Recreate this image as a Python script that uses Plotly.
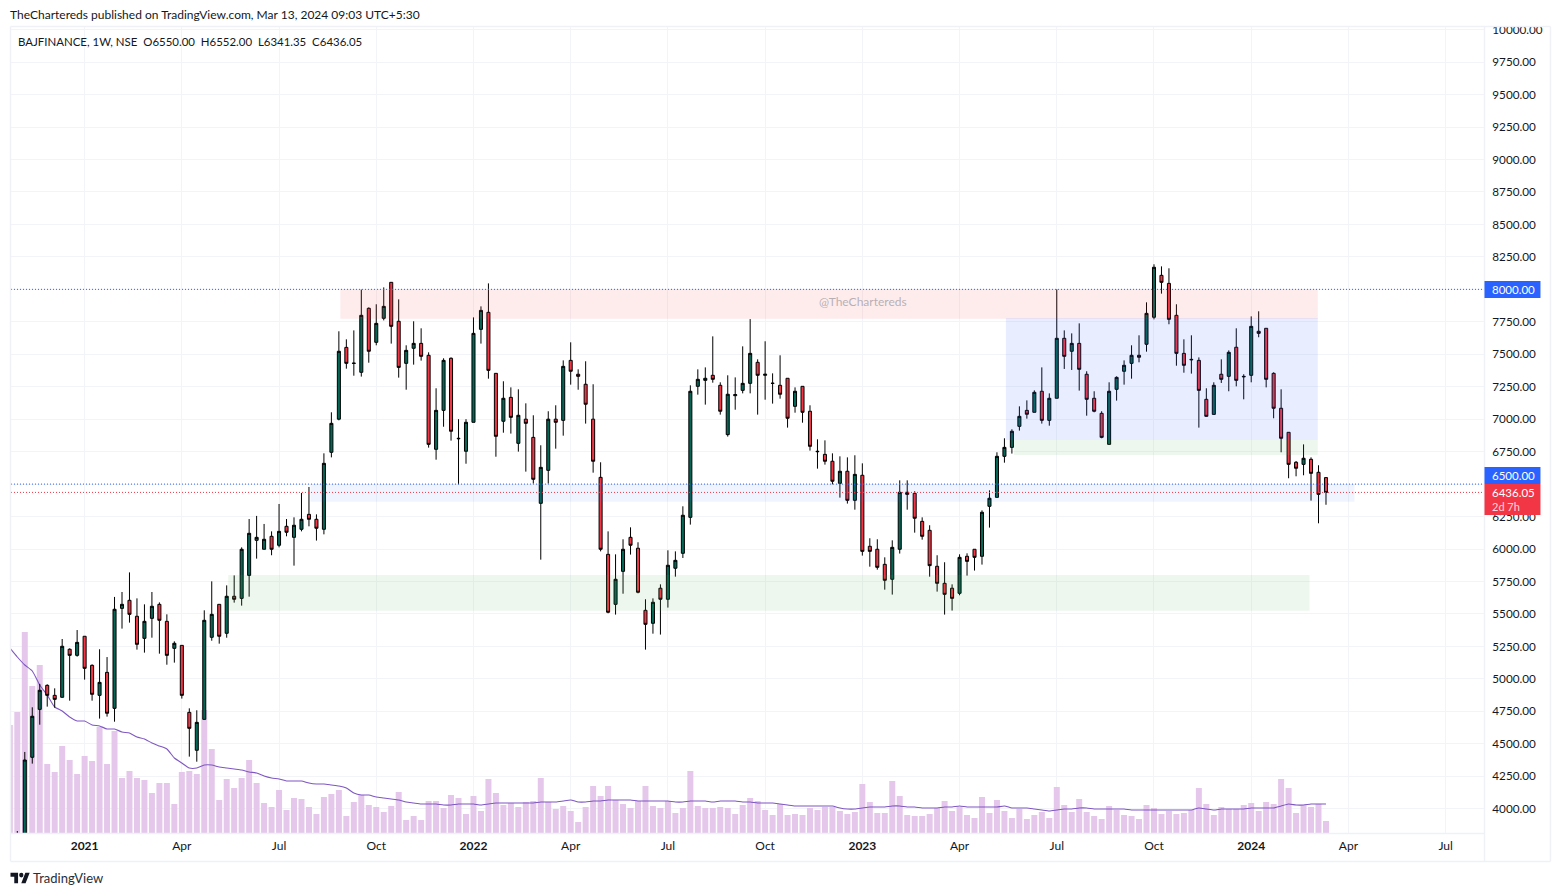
import plotly.graph_objects as go

FONT = "Lato"
TEXT = "#131722"

bars = list(range(-2, 175))

opens = [3650, 3720,
 3750,4396,4765,4950,4873,4858,5228,5181,5328,5104,
 4873,5050,4773,5543,5605,5482,5312,5466,5574,5443,
 5235,5258,4742,4450,4688,5320,5574,5351,5636,5620,
 5797,6067,5998,6098,6029,6175,6090,6152,6267,6229,
 6152,6745,7000,7553,7432,7361,7854,7592,7777,8054,
 7754,7430,7546,7584,7492,6768,7068,7469,6853,6753,
 6976,7692,7823,7353,6984,7168,6814,7000,6860,6352,
 6606,7000,6991,7453,7346,7269,7000,6552,5959,5574,
 5828,6090,6006,5528,5428,5698,5613,5852,5967,6244,
 7253,7299,7338,7261,6881,7181,7222,7276,7438,7338,
 7277,7261,7315,7099,7253,7061,6753,6729,6676,6506,
 6599,6375,6568,6021,5998,5882,5767,5998,6437,6429,
 6213,6144,5867,5736,5698,5659,5944,5998,5944,6329,
 6398,6714,6783,6945,7068,7053,7215,6991,7161,7623,
 7523,7584,7346,7161,7045,6806,7230,7369,7430,7492,
 7577,7785,8108,8046,7800,7507,7461,7453,7153,7037,
 7346,7330,7554,7330,7338,7677,7700,7353,7084,6899,
 6668,6652,6691,6591,6550]

highs = [3750, 3828,
 4437,4781,4961,4958,4927,5307,5235,5376,5328,5112,
 5228,5168,5631,5669,5820,5620,5574,5669,5589,5497,
 5289,5258,4773,4758,5528,5751,5574,5720,5797,6013,
 6231,6255,6193,6136,6347,6231,6244,6432,6478,6267,
 6737,7053,7677,7615,7684,7998,7861,7885,8015,8054,
 7923,7569,7754,7700,7515,7238,7469,7476,7000,7000,
 7784,7869,8046,7353,7292,7245,7230,7122,7030,6799,
 7061,7107,7453,7592,7384,7446,7269,6668,6136,5959,
 6075,6167,6052,5613,5620,5728,5990,5982,6329,7261,
 7384,7399,7638,7284,7338,7322,7561,7771,7461,7600,
 7353,7492,7315,7245,7253,7107,6845,6837,6737,6714,
 6706,6722,6660,6083,6075,5936,6067,6529,6529,6445,
 6244,6183,5952,5898,5728,5959,5967,5998,6298,6452,
 6745,6853,6922,7099,7145,7222,7399,7199,8000,7684,
 7661,7738,7369,7215,7061,7284,7330,7453,7569,7646,
 7900,8193,8177,8162,7885,7615,7646,7476,7238,7284,
 7461,7530,7700,7346,7792,7831,7700,7361,7230,6899,
 6678,6806,6706,6645,6552]

lows = [3600, 3700,
 3720,4347,4647,4786,4778,4855,4832,5171,4994,4832,
 4694,4709,4670,5387,5433,5225,5202,5317,5194,5109,
 5125,4848,4401,4362,4688,5294,5271,5317,5587,5564,
 5633,5926,5998,5952,6013,6098,5872,6136,6175,6065,
 6113,6706,6991,7389,7335,7328,7435,7569,7761,7582,
 7320,7227,7420,7451,6781,6688,6942,6835,6498,6657,
 6976,7582,7312,6711,6896,6889,6750,6596,6504,5918,
 6504,6773,6873,7266,7227,6966,6588,5982,5505,5495,
 5656,5957,5659,5225,5348,5341,5549,5787,5931,6188,
 7189,7112,7281,7035,6866,7073,7199,7199,7035,7150,
 7120,7158,6935,7050,6973,6758,6619,6650,6498,6396,
 6350,6303,5949,5864,5841,5687,5649,5965,6303,6126,
 6072,5787,5672,5495,5526,5644,5795,5834,5880,6165,
 6398,6665,6735,6912,7004,7053,6966,6950,7161,7387,
 7379,7220,7027,7053,6853,6806,7143,7266,7312,7438,
 7520,7769,7967,7731,7412,7358,7351,6935,7019,7037,
 7279,7215,7253,7153,7284,7631,7245,7007,6745,6545,
 6560,6568,6373,6198,6341]

closes = [3700, 3800,
 4375,4712,4912,4873,4842,5251,5181,5281,5081,4881,
 4973,4735,5536,5574,5497,5266,5443,5559,5451,5181,
 5274,4873,4619,4665,5451,5497,5328,5636,5613,5998,
 6121,6090,6075,5998,6136,6129,6183,6229,6229,6160,
 6660,6968,7523,7430,7430,7800,7523,7738,7869,7715,
 7399,7530,7584,7484,6806,7068,7453,6907,6850,6976,
 7661,7838,7376,6868,7161,7014,7030,6968,6537,6629,
 7000,6976,7407,7369,7330,7115,6676,5998,5513,5767,
 5998,6029,5667,5420,5590,5613,5875,5913,6260,7215,
 7307,7315,7307,7061,7192,7189,7276,7507,7338,7346,
 7276,7192,7007,7215,7053,6791,6750,6676,6522,6599,
 6375,6575,5982,5982,5859,5759,6013,6437,6421,6237,
 6098,5872,5736,5651,5620,5936,5905,5936,6283,6391,
 6714,6783,6907,7022,7038,7207,6991,7161,7623,7484,
 7584,7384,7153,7061,6860,7215,7322,7415,7492,7477,
 7815,8170,8054,7769,7507,7415,7458,7222,7022,7261,
 7307,7515,7299,7327,7715,7661,7307,7084,6853,6652,
 6622,6699,6583,6421,6436]

volume = [10.8, 12.1,
 20.1,14.7,16.8,6.9,6.1,8.7,7.3,5.9,7.7,7.2,
 10.6,6.9,10.2,5.5,6.2,5.5,5.3,4.0,5.0,5.0,
 2.9,6.1,6.2,5.9,12.3,8.4,3.3,5.4,4.5,5.5,
 7.3,5.0,3.0,2.6,4.3,2.3,3.5,3.4,2.6,1.9,
 3.6,3.9,4.3,1.7,3.1,3.8,2.8,2.6,2.1,2.7,
 4.1,1.3,1.7,1.3,3.2,3.2,2.5,3.8,3.5,1.9,
 3.7,2.2,5.4,4.0,2.8,3.0,2.6,3.1,3.2,5.5,
 3.1,2.4,2.7,2.2,1.1,2.6,4.7,3.7,4.7,3.3,
 2.9,2.5,3.2,4.7,2.7,2.5,3.2,2.0,2.5,6.2,
 2.7,2.5,2.5,2.6,2.5,1.9,2.8,3.5,3.2,2.3,
 1.8,2.9,1.8,1.9,1.8,2.5,2.3,2.6,2.6,2.2,
 1.9,2.1,4.9,3.1,2.0,2.0,5.2,3.7,1.8,1.7,
 1.7,1.9,2.5,3.2,2.2,2.6,1.8,1.5,3.6,2.0,
 3.3,2.2,1.5,2.4,1.4,1.8,2.1,1.5,4.6,2.8,
 2.1,3.4,2.1,1.7,1.4,2.7,2.3,1.8,1.7,1.4,
 2.8,2.5,1.9,2.2,1.9,2.0,2.3,4.5,2.9,1.8,
 2.6,2.4,2.4,2.8,3.0,2.2,3.1,2.9,5.4,4.5,
 2.0,2.8,2.6,2.9,1.2]

volume_ma = [18.5, 17.6,
 16.8,16.2,14.8,13.8,12.6,12.2,11.6,11.2,11.2,10.8,
 10.7,10.4,10.4,10.1,10.0,9.6,9.4,9.0,8.7,8.4,
 7.5,7.0,6.5,6.5,6.8,6.8,6.6,6.5,6.4,6.3,
 6.1,6.0,5.7,5.5,5.4,5.2,5.2,5.2,5.0,4.9,
 4.9,4.8,4.7,4.5,4.0,3.8,3.8,3.6,3.5,3.4,
 3.3,3.1,3.0,2.9,2.9,2.9,2.8,2.8,
 2.9,2.9,2.9,2.8,2.9,3.0,3.0,3.0,3.0,3.0,
 3.0,3.1,3.1,3.1,3.2,3.3,3.1,3.1,3.2,3.2,
 3.3,3.3,3.3,3.3,3.2,3.2,3.2,3.2,3.2,3.1,
 3.1,3.2,3.2,3.2,3.1,3.2,3.2,3.2,3.1,3.1,
 3.0,3.0,3.0,2.9,2.8,2.7,2.7,2.7,2.7,2.7,
 2.7,2.5,2.4,2.4,2.5,2.6,2.6,2.6,2.7,2.7,
 2.6,2.6,2.5,2.5,2.5,2.6,2.6,2.7,2.6,2.6,
 2.6,2.6,2.6,2.7,2.5,2.5,2.5,2.4,2.3,2.2,
 2.3,2.4,2.4,2.5,2.5,2.4,2.4,2.4,2.4,2.4,
 2.3,2.3,2.3,2.3,2.3,2.3,2.3,2.3,2.3,2.5,
 2.4,2.3,2.4,2.4,2.4,2.4,2.5,2.5,2.5,2.5,
 2.7,2.9,2.8,2.8,2.9,2.9,2.9]

month_bars = [8, 21, 34, 47, 60, 73, 86, 99, 112, 125, 138, 151, 164, 177, 190]
month_labels = ["<b>2021</b>", "Apr", "Jul", "Oct", "<b>2022</b>", "Apr", "Jul", "Oct",
                "<b>2023</b>", "Apr", "Jul", "Oct", "<b>2024</b>", "Apr", "Jul"]
price_ticks = list(range(4000, 10001, 250))
# These two levels sit under their own price tags, which carry the text.
tagged_levels = {6500, 8000}

W, H = 1561, 896
L, R, T, B = 10.5, 1484.5, 27, 833


def px(x):
    return (x - L) / (R - L)


def py(y):
    return (B - y) / (B - T)


fig = go.Figure()
fig.add_trace(go.Bar(x=bars, y=volume, yaxis="y", marker=dict(color="#e4c7ea", line=dict(width=0)),
                     hoverinfo="skip"))
fig.add_trace(go.Scatter(x=bars, y=volume_ma, yaxis="y", mode="lines",
                         line=dict(color="#7e57c2", width=1.1, shape="spline", smoothing=0.5),
                         hoverinfo="skip"))
fig.add_trace(go.Candlestick(
    x=bars, open=opens, high=highs, low=lows, close=closes, yaxis="y2", whiskerwidth=0,
    increasing=dict(fillcolor="#056656", line=dict(color="#000000", width=1)),
    decreasing=dict(fillcolor="#f23645", line=dict(color="#000000", width=1)),
))

shapes = []


def zone(b0, b1, p0, p1, color):
    shapes.append(dict(type="rect", xref="x", yref="y2", x0=b0, x1=b1, y0=p0, y1=p1,
                       fillcolor=color, line=dict(width=0), layer="above"))


zone(42.2, 172.9, 7774, 8000, "rgba(242,54,69,0.10)")
zone(131.2, 172.9, 6840, 7780, "rgba(41,98,255,0.11)")
zone(132.3, 172.9, 6724, 6840, "rgba(76,175,80,0.10)")
zone(27.2, 171.8, 5525, 5800, "rgba(76,175,80,0.10)")
zone(38.2, 177.8, 6365, 6500, "rgba(41,98,255,0.07)")

for price, col in [(8000, "#2962ff"), (6500, "#2962ff"), (6436.05, "#f23645")]:
    shapes.append(dict(type="line", xref="paper", yref="y2", x0=0, x1=1, y0=price, y1=price,
                       line=dict(color=col, width=1, dash="1px,2px"), layer="above"))

BORDER = "#eff1f6"


def pline(x0, y0, x1, y1):
    shapes.append(dict(type="line", xref="paper", yref="paper", x0=px(x0), x1=px(x1), y0=py(y0), y1=py(y1),
                       line=dict(color=BORDER, width=1.5), layer="above"))


pline(10, 26.5, 1551, 26.5)
pline(10, 861.5, 1551, 861.5)
pline(10, 26.5, 10, 861.5)
pline(1551, 26.5, 1551, 861.5)
pline(1485, 26.5, 1485, 861.5)
pline(10, 833.5, 1485, 833.5)


def tag(y0, y1, color):
    shapes.append(dict(type="rect", xref="paper", yref="paper", x0=px(1485), x1=px(1541), y0=py(y0), y1=py(y1),
                       fillcolor=color, line=dict(width=0), layer="above"))


tag(281, 298, "#2962ff")
tag(467, 484, "#2962ff")
tag(484, 515, "#f23645")

# TradingView logo
lx, ly, ls, lt = 10.0, 872.7, 0.54, 0.59


def lpath(points):
    return "M" + "L".join(f"{px(lx + a * ls):.5f},{py(ly + (b - 4) * lt):.5f}" for a, b in points) + "Z"


LOGO = "#131722"
shapes.append(dict(type="path", xref="paper", yref="paper", layer="above", fillcolor=LOGO, line=dict(width=0),
                   path=lpath([(0, 4), (14, 4), (14, 22), (7, 22), (7, 11), (0, 11)])))
shapes.append(dict(type="path", xref="paper", yref="paper", layer="above", fillcolor=LOGO, line=dict(width=0),
                   path=lpath([(27.5, 4), (35.5, 4), (28, 22), (20, 22)])))
shapes.append(dict(type="circle", xref="paper", yref="paper", layer="above", fillcolor=LOGO, line=dict(width=0),
                   x0=px(lx + 16 * ls), x1=px(lx + 24 * ls), y0=py(ly + 8 * lt), y1=py(ly)))

ann = []


def text(x, y, s, size=12, color=TEXT, anchor="left"):
    ann.append(dict(x=px(x), y=py(y), xref="paper", yref="paper", text=s, showarrow=False, xanchor=anchor,
                    yanchor="middle", borderpad=0, font=dict(family=FONT, size=size, color=color)))


text(8.5, 14.5, "TheChartereds published on TradingView.com, Mar 13, 2024 09:03 UTC+5:30")
text(16.5, 41.5, "BAJFINANCE, 1W, NSE&nbsp;&nbsp;O6550.00&nbsp;&nbsp;H6552.00&nbsp;&nbsp;L6341.35&nbsp;&nbsp;C6436.05", size=11.45)
text(32, 878, "TradingView", size=13, color="#2a2e39")
text(863, 301.5, "@TheChartereds", size=12, color="rgba(120,123,134,0.55)", anchor="center")
text(1492, 289.5, "8000.00", size=11.5, color="#ffffff")
text(1492, 475.5, "6500.00", size=11.5, color="#ffffff")
text(1492, 492.5, "6436.05", size=11.5, color="#ffffff")
text(1492, 506.5, "2d 7h", size=11, color="rgba(255,255,255,0.8)")

GRID = "#f3f4f7"
fig.update_layout(
    width=W, height=H, autosize=False, showlegend=False, paper_bgcolor="#ffffff", plot_bgcolor="#ffffff",
    margin=dict(l=L, r=W - R, t=T, b=H - B, pad=0),
    bargap=0.2, boxgap=0.42,
    shapes=shapes, annotations=ann, hovermode=False,
    font=dict(family=FONT, size=12, color=TEXT),
    xaxis=dict(range=[-1.844, 195.13], tickmode="array", tickvals=month_bars, ticktext=month_labels,
               showgrid=True, gridcolor=GRID, gridwidth=1, zeroline=False, showline=False, ticks="outside",
               ticklen=2, tickcolor="rgba(0,0,0,0)", rangeslider=dict(visible=False),
               tickfont=dict(family=FONT, size=12, color=TEXT)),
    yaxis=dict(range=[0, 80.6], visible=False, showgrid=False, zeroline=False),
    yaxis2=dict(range=[3812.8, 10020.6], overlaying="y", side="right", tickmode="array", tickvals=price_ticks,
                ticktext=["" if v in tagged_levels else f"{v:.2f}" for v in price_ticks],
                showgrid=True, gridcolor=GRID, gridwidth=1,
                zeroline=False, showline=False, ticks="outside", ticklen=5, tickcolor="rgba(0,0,0,0)",
                tickfont=dict(family=FONT, size=11.7, color=TEXT)),
)

fig.write_html("out.html", config=dict(displayModeBar=False),
               post_script="document.body.style.margin='0';document.body.style.overflow='hidden';")
